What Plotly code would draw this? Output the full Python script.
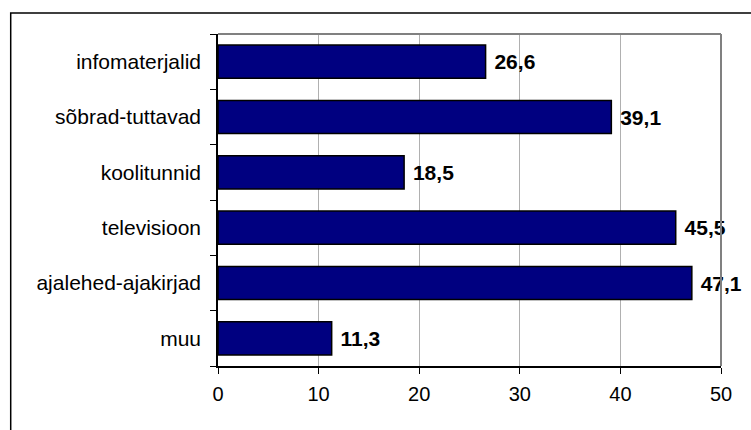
import plotly.graph_objects as go

# Andmed (ülevalt alla)
kategooriad = ["infomaterjalid", "sõbrad-tuttavad", "koolitunnid",
               "televisioon", "ajalehed-ajakirjad", "muu"]
vaartused = [26.6, 39.1, 18.5, 45.5, 47.1, 11.3]
x_tickid = [0, 10, 20, 30, 40, 50]

# koma kümnendkohana, tühik vahe jaoks
sildid = ["\u00a0" + f"{v:.1f}".replace(".", ",") for v in vaartused]

fig = go.Figure()

fig.add_trace(go.Bar(
    y=kategooriad,
    x=vaartused,
    orientation="h",
    width=0.6,
    marker=dict(color="#000080", line=dict(color="black", width=1.5)),
    text=sildid,
    textposition="outside",
    textfont=dict(family="Liberation Sans, Arial", size=21, color="black", weight="bold"),
    cliponaxis=False,
))

# plot area: x 217.5..721, y 34..366
L, R, T, B = 217.5, 30, 34, 64
pw = 751 - L - R
ph = 430 - T - B

fig.update_layout(
    width=751, height=430,
    margin=dict(l=L, r=R, t=T, b=B),
    paper_bgcolor="white",
    plot_bgcolor="white",
    showlegend=False,
    font=dict(family="Liberation Sans, Arial", size=21, color="black"),
    xaxis=dict(
        range=[0, 50], tickvals=x_tickid, ticktext=[str(t) for t in x_tickid],
        tickfont=dict(size=20), ticklabelstandoff=3,
        showgrid=True, gridcolor="#b0b0b0", gridwidth=1,
        showline=True, linecolor="black", linewidth=1.5,
        ticks="outside", ticklen=6, tickcolor="black",
        zeroline=False, fixedrange=True,
    ),
    yaxis=dict(
        categoryorder="array", categoryarray=kategooriad[::-1],
        showline=True, linecolor="black", linewidth=1.5,
        ticks="outside", ticklen=6, tickcolor="black",
        tickson="boundaries", ticklabelstandoff=11,
        showgrid=False, fixedrange=True,
    ),
    shapes=[
        # plotala hall raam (ülemine ja parem serv)
        dict(type="line", xref="paper", yref="paper", x0=0, x1=1, y0=1, y1=1,
             line=dict(color="#808080", width=2)),
        dict(type="line", xref="paper", yref="paper", x0=1, x1=1, y0=0, y1=1,
             line=dict(color="#808080", width=2)),
        # välimine raam
        dict(type="rect", xref="paper", yref="paper",
             x0=(10 - L) / pw, x1=(760 - L) / pw,
             y0=-(440 - T - ph) / ph, y1=1 + (T - 13) / ph,
             line=dict(color="black", width=1.5), layer="below"),
    ],
)

fig.write_html("out.html", config={"displayModeBar": False},
               post_script="document.body.style.margin='0';")
